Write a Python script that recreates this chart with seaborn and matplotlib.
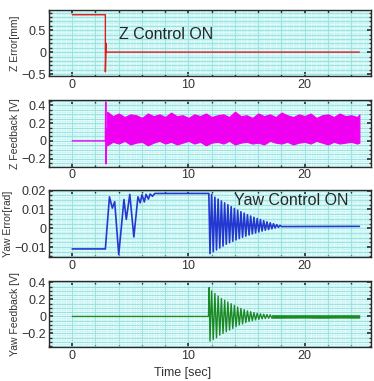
import numpy as np
import matplotlib
matplotlib.use("Agg")
import matplotlib.pyplot as plt
import seaborn as sns
from matplotlib.ticker import MultipleLocator

# ---- Z error [mm]
zerr_t = [0.0, 2.85, 2.85, 2.92, 2.92, 24.7]
zerr_v = [0.85, 0.85, -0.45, 0.2, 0.0, 0.0]

# ---- Z feedback [V]: step + dense noise band
zfb_t = [0.0, 2.85, 2.88, 2.92, 2.96]
zfb_v = [0.0, 0.0, 0.44, -0.26, 0.13]
band_t = [3.0, 3.5, 4.0, 4.5, 5.0,
          5.5, 6.0, 6.5, 7.0, 7.5,
          8.0, 8.5, 9.0, 9.5, 10.0,
          10.5, 11.0, 11.5, 12.0, 12.5,
          13.0, 13.5, 14.0, 14.5, 15.0,
          15.5, 16.0, 16.5, 17.0, 17.5,
          18.0, 18.5, 19.0, 19.5, 20.0,
          20.5, 21.0, 21.5, 22.0, 22.5,
          23.0, 23.5, 24.0, 24.5, 24.7]
band_hi = [0.33, 0.28, 0.31, 0.27, 0.30,
           0.29, 0.26, 0.31, 0.28, 0.30,
           0.27, 0.32, 0.28, 0.29, 0.26,
           0.30, 0.28, 0.31, 0.27, 0.29,
           0.30, 0.27, 0.33, 0.28, 0.29,
           0.26, 0.31, 0.28, 0.30, 0.27,
           0.32, 0.29, 0.27, 0.30, 0.28,
           0.31, 0.26, 0.29, 0.30, 0.27,
           0.31, 0.28, 0.29, 0.27, 0.30]
band_lo = [-0.05, -0.01, -0.03, 0.00, -0.04,
           -0.02, -0.01, -0.05, -0.02, 0.00,
           -0.03, -0.01, -0.04, -0.02, 0.00,
           -0.03, -0.01, -0.05, -0.02, -0.01,
           -0.03, 0.00, -0.04, -0.02, -0.01,
           -0.03, -0.02, -0.04, 0.00, -0.02,
           -0.03, -0.01, -0.04, -0.02, -0.01,
           -0.03, 0.00, -0.02, -0.04, -0.01,
           -0.03, -0.02, -0.01, -0.03, -0.02]

# ---- oscillation peak times after yaw control switches on
osc_t = [11.85, 11.99, 12.13, 12.27, 12.41, 12.55, 12.69, 12.83, 12.97, 13.11,
         13.25, 13.39, 13.53, 13.67, 13.81, 13.95, 14.09, 14.23, 14.37, 14.51,
         14.65, 14.79, 14.93, 15.07, 15.21, 15.35, 15.49, 15.63, 15.77, 15.91,
         16.05, 16.19, 16.33, 16.47, 16.61, 16.75, 16.89, 17.03, 17.17]

# ---- Yaw error [rad]
yerr_t_pre = [0.0, 2.85, 3.2, 3.45, 3.65, 4.0, 4.45, 4.65, 4.95, 5.3,
              5.65, 5.85, 6.0, 6.2, 6.35, 6.55, 6.7, 6.9, 7.1, 11.75]
yerr_v_pre = [-0.011, -0.011, 0.0167, 0.0107, 0.0141, -0.014, 0.0153, 0.0047, 0.018, -0.0046,
              0.0167, 0.0135, 0.0178, 0.014, 0.018, 0.0155, 0.0182, 0.017, 0.0185, 0.0185]
yerr_v_osc = [-0.0135, 0.0180, -0.0125, 0.0165, -0.0115, 0.0155, -0.0105, 0.0145, -0.0095, 0.0135,
              -0.0085, 0.0125, -0.0077, 0.0115, -0.0069, 0.0105, -0.0062, 0.0096, -0.0055, 0.0088,
              -0.0048, 0.0080, -0.0042, 0.0072, -0.0036, 0.0065, -0.0030, 0.0058, -0.0025, 0.0052,
              -0.0020, 0.0046, -0.0015, 0.0040, -0.0011, 0.0034, -0.0007, 0.0029, -0.0003]
yerr_t_post = [17.31, 17.45, 17.59, 17.73, 17.87, 18.01, 24.7]
yerr_v_post = [0.0024, 0.0002, 0.0019, 0.0005, 0.0015, 0.0009, 0.001]

# ---- Yaw feedback [V]
yfb_t_pre = [0.0, 11.72, 11.78]
yfb_v_pre = [0.0, 0.0, 0.34]
yfb_v_osc = [-0.29, 0.30, -0.27, 0.27, -0.25, 0.24, -0.22, 0.21, -0.20, 0.19,
             -0.18, 0.17, -0.16, 0.15, -0.14, 0.13, -0.12, 0.11, -0.10, 0.095,
             -0.088, 0.08, -0.072, 0.066, -0.06, 0.055, -0.05, 0.045, -0.041, 0.037,
             -0.034, 0.031, -0.028, 0.026, -0.024, 0.022, -0.02, 0.019, -0.018]
res_t = [17.17, 18.5, 20.0, 21.5, 23.0, 24.7]
res_hi = [0.018, 0.016, 0.017, 0.015, 0.016, 0.016]
res_lo = [-0.016, -0.015, -0.014, -0.016, -0.014, -0.015]

sns.set_theme(style="ticks")
plt.rcParams["font.family"] = ["Liberation Sans", "DejaVu Sans"]

fig, axes = plt.subplots(4, 1, figsize=(3.74, 3.81), dpi=100)
fig.subplots_adjust(left=0.131, right=0.992, top=0.974, bottom=0.089, hspace=0.36)

bg = "#c8f6f4"


def style_axis(ax, ylim, ymajor, yminor, ylabel):
    ax.set_facecolor(bg)
    ax.set_xlim(-2, 25.7)
    ax.set_ylim(*ylim)
    ax.xaxis.set_major_locator(MultipleLocator(10))
    ax.xaxis.set_minor_locator(MultipleLocator(2))
    ax.yaxis.set_major_locator(MultipleLocator(ymajor))
    ax.yaxis.set_minor_locator(MultipleLocator(yminor))
    # fine white dotted mesh + teal lines
    for v in np.arange(-2, 26, 0.5):
        ax.axvline(v, color="white", lw=0.6, ls=(0, (1, 1)), zorder=0.5)
    for v in np.arange(ylim[0], ylim[1], yminor / 2):
        ax.axhline(v, color="white", lw=0.6, ls=(0, (1, 1)), zorder=0.5)
    ax.grid(True, which="both", color="#96dede", lw=0.6, zorder=0.6)
    ax.set_axisbelow(True)
    ax.tick_params(direction="in", which="both", top=True, right=True,
                   labelsize=9, colors="#333333", length=3, pad=2)
    ax.tick_params(which="minor", length=1.8)
    for s in ax.spines.values():
        s.set_color("#2a2a2a")
        s.set_linewidth(1.0)
    ax.set_ylabel(ylabel, fontsize=7.5, color="#333333", labelpad=1)
    ax.set_xlabel("")


def fmt(v):
    s = f"{v:g}"
    return s.replace("-", "\u2212")


# Panel 1
ax = axes[0]
sns.lineplot(x=zerr_t, y=zerr_v, ax=ax, color="#e01c1c", lw=1.0,
             estimator=None, sort=False)
style_axis(ax, (-0.55, 0.96), 0.5, 0.1, "Z Error[mm]")
ax.text(4.0, 0.41, "Z Control ON", fontsize=11.5, va="center")

# Panel 2
ax = axes[1]
ax.fill_between(band_t, band_lo, band_hi, color="#f000f0", lw=0.8, zorder=3)
sns.lineplot(x=zfb_t, y=zfb_v, ax=ax, color="#f000f0", lw=1.0,
             estimator=None, sort=False, zorder=3)
style_axis(ax, (-0.29, 0.46), 0.2, 0.05, "Z Feedback [V]")

# Panel 3
ax = axes[2]
yerr_t = yerr_t_pre + osc_t + yerr_t_post
yerr_v = yerr_v_pre + yerr_v_osc + yerr_v_post
sns.lineplot(x=yerr_t, y=yerr_v, ax=ax, color="#2438d0", lw=1.2,
             estimator=None, sort=False)
style_axis(ax, (-0.0152, 0.0201), 0.01, 0.0025, "Yaw Error[rad]")
ax.text(13.9, 0.0145, "Yaw Control ON", fontsize=11.5, va="center")

# Panel 4
ax = axes[3]
yfb_t = yfb_t_pre + osc_t
yfb_v = yfb_v_pre + yfb_v_osc
sns.lineplot(x=yfb_t, y=yfb_v, ax=ax, color="#1c8a24", lw=1.0,
             estimator=None, sort=False)
ax.fill_between(res_t, res_lo, res_hi, color="#1c8a24", lw=0.5, zorder=3)
style_axis(ax, (-0.36, 0.42), 0.2, 0.05, "Yaw Feedback [V]")
ax.set_xlabel("Time [sec]", fontsize=9, color="#333333")
ax.xaxis.set_label_coords((183 - 49) / 322, -0.3)

for a in axes:
    a.set_yticks(a.get_yticks())
    a.set_yticklabels([fmt(round(v, 4)) for v in a.get_yticks()])

axes[0].set_ylim(-0.55, 0.96)
axes[1].set_ylim(-0.29, 0.46)
axes[2].set_ylim(-0.0152, 0.0201)
axes[3].set_ylim(-0.36, 0.42)

fig.savefig("out.png", dpi=100)
plt.close(fig)
